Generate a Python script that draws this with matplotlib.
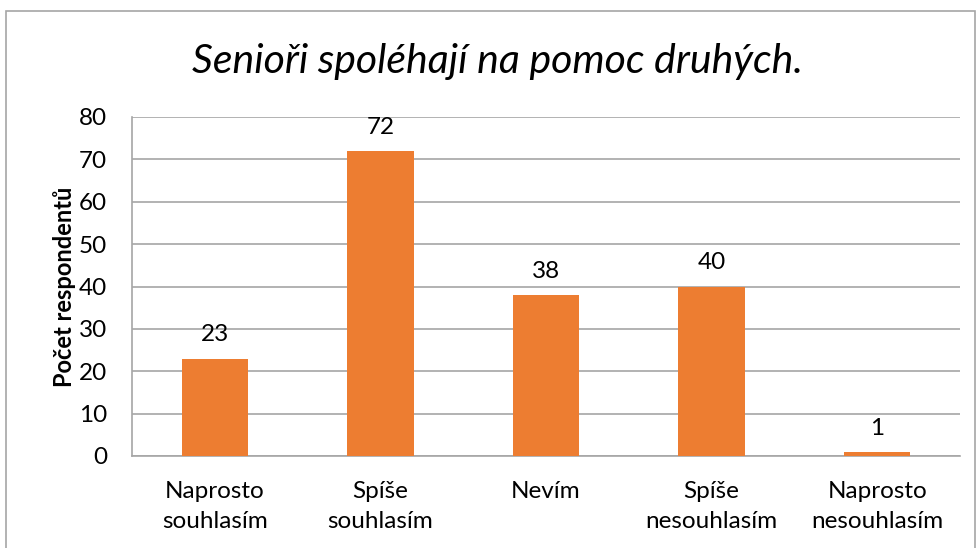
import matplotlib
matplotlib.use("Agg")
import matplotlib.pyplot as plt
from matplotlib.patches import Rectangle

categories = ["Naprosto\nsouhlasím", "Spíše\nsouhlasím", "Nevím", "Spíše\nnesouhlasím", "Naprosto\nnesouhlasím"]
values = [23, 72, 38, 40, 1]
yticks = [0, 10, 20, 30, 40, 50, 60, 70, 80]
title = "Senioři spoléhají na pomoc druhých."
ylabel = "Počet respondentů"

plt.rcParams['font.family'] = ['Lato', 'DejaVu Sans']

fig = plt.figure(figsize=(9.76, 5.48), dpi=100)
fig.patches.append(Rectangle((6/976, -0.1), (975-6)/976, 1 - 11/548 + 0.1, transform=fig.transFigure,
                             fill=False, edgecolor='#A6A6A6', linewidth=1.2))
ax = fig.add_axes([132/976, 1-456/548, (960-132)/976, (456-117)/548])

x = range(len(categories))
ax.bar(x, values, width=0.4, color='#ED7D31', zorder=3)
for xi, v in zip(x, values):
    ax.annotate(str(v), (xi, v), xytext=(0, 9.5), textcoords='offset points',
                ha='center', va='bottom', fontsize=17.5, color='black')

ax.set_xlim(-0.5, len(categories) - 0.5)
ax.set_ylim(0, 80)
ax.set_yticks(yticks)
ax.set_yticklabels([str(t) for t in yticks], fontsize=17.5)
ax.set_xticks(list(x))
ax.set_xticklabels(categories, fontsize=17.5, linespacing=1.5)
ax.tick_params(axis='x', length=0, pad=18)
ax.tick_params(axis='y', length=0, pad=18)
ax.grid(axis='y', color='#A6A6A6', linewidth=1.2, zorder=0)
for s in ['top', 'right']:
    ax.spines[s].set_visible(False)
ax.spines['left'].set_color('#A6A6A6')
ax.spines['bottom'].set_color('#A6A6A6')
ax.spines['left'].set_linewidth(1.2)
ax.spines['bottom'].set_linewidth(1.2)

ax.set_ylabel(ylabel, fontsize=17, fontweight='bold', labelpad=2)
fig.text(497/976, 1-62/548, title, ha='center', va='center', fontsize=29.5, style='italic')

fig.savefig("out.png", dpi=100)
